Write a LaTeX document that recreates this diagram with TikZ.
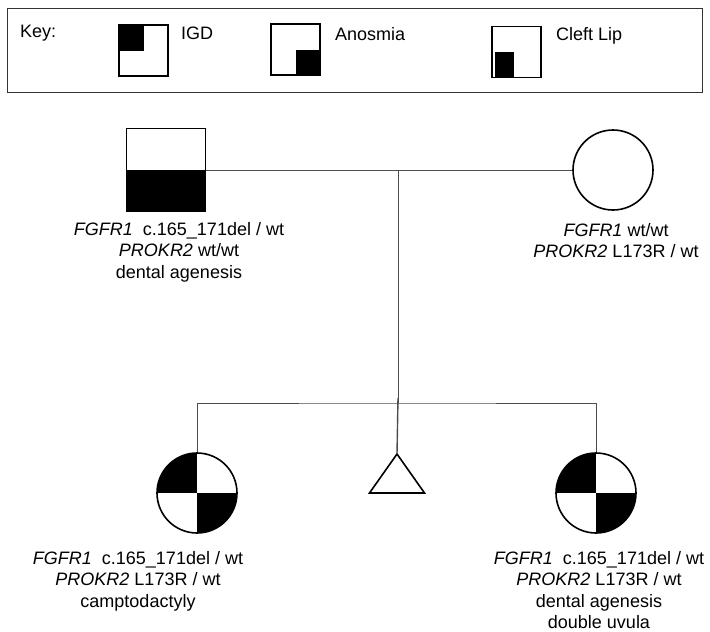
\documentclass[tikz,border=0pt]{standalone}
\usepackage{fontspec}
\setmainfont{Liberation Sans}

\begin{document}
\begin{tikzpicture}[x=1pt,y=-1pt,
  every node/.style={font=\fontsize{18}{21.5}\selectfont},
  sym/.style={draw, line width=1.6pt, inner sep=0pt},
  male/.style={sym, rectangle, minimum width=79pt, minimum height=83pt},
  female/.style={sym, circle, minimum size=80pt},
  keybox/.style={sym, rectangle, minimum width=49pt, minimum height=51pt},
  topleft/.style={path picture={\fill (path picture bounding box.north west) rectangle (path picture bounding box.center);}},
  lowright/.style={path picture={\fill (path picture bounding box.center) rectangle (path picture bounding box.south east);}},
  lowleft/.style={path picture={\fill ([xshift=3pt]path picture bounding box.south west) rectangle ([xshift=-3pt]path picture bounding box.center);}},
  lowhalf/.style={path picture={\fill (path picture bounding box.west) rectangle (path picture bounding box.south east);}},
  quarters/.style={path picture={\fill (path picture bounding box.north west) rectangle (path picture bounding box.center);
                                 \fill (path picture bounding box.center) rectangle (path picture bounding box.south east);}},
  link/.style={draw=black!70, line width=0.9pt},
  txt/.style={align=center, inner sep=0pt, anchor=north},
  keytxt/.style={anchor=north west, inner sep=0pt}]
\useasboundingbox (0,0) rectangle (710,632);

% key
\node[draw=black!80, line width=1pt, minimum width=695pt, minimum height=84pt, inner sep=0pt] (keyframe) at (354.5,50) {};
\node[keytxt] (keylbl) at (20,25) {Key:};
\node[keybox, topleft] (kigd) at (143.5,50.5) {};
\node[keytxt] (ligd) at (181,27) {IGD};
\node[keybox, lowright] (kanos) at (295.5,49.5) {};
\node[keytxt] (lanos) at (335,27) {Anosmia};
\node[keybox, lowleft] (kcleft) at (516.5,52) {};
\node[keytxt] (lcleft) at (556,27) {Cleft Lip};

% parents
\node[male, lowhalf] (father) at (166,170) {};
\node[female] (mother) at (613,170) {};
\node[txt] (ftxt) at (179,222) {\textit{FGFR1}\ \ c.165\_171del / wt\\ \textit{PROKR2} wt/wt\\ dental agenesis};
\node[txt] (mtxt) at (616,223) {\textit{FGFR1} wt/wt\\ \textit{PROKR2} L173R / wt};

% children
\node[female, quarters] (kid1) at (197,493) {};
\node[female, quarters] (kid2) at (596,493) {};
\coordinate (twins) at (397,454);
\draw[sym] (twins) -- ++(27.5,39) -- ++(-55,0) -- cycle;
\node[txt] (k1txt) at (138,551) {\textit{FGFR1}\ \ c.165\_171del / wt\\ \textit{PROKR2} L173R / wt\\ camptodactyly};
\node[txt] (k2txt) at (599,551) {\textit{FGFR1}\ \ c.165\_171del / wt\\ \textit{PROKR2} L173R / wt\\ dental agenesis\\ double uvula};

% lines
\coordinate (mate) at (398,170);
\coordinate (sib) at (398,403);
\draw[link] (father.east) -- (mother.west);
\draw[link] (mate) -- (sib);
\draw[link] (kid1.north) |- (sib) -| (kid2.north);
\draw[link, line width=1.4pt] (sib |- twins) ++(0,-56) -- (twins);
\end{tikzpicture}
\end{document}
